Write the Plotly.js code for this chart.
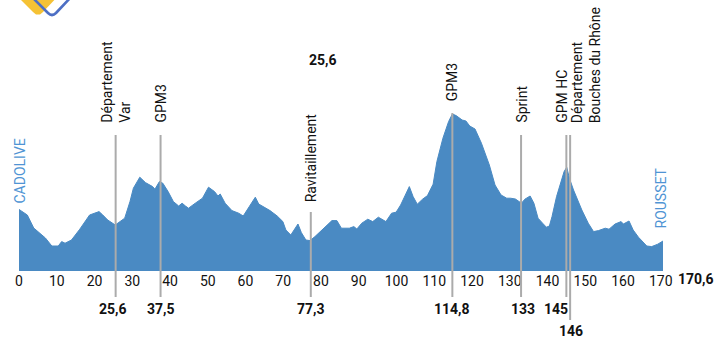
<!DOCTYPE html>
<html><head><meta charset="utf-8">
<script src="https://cdn.plot.ly/plotly-3.0.1.min.js"></script>
<style>html,body{margin:0;padding:0;background:#fff}#chart{width:720px;height:353px}</style>
</head><body><div id="chart"></div>
<script>
// Stage profile: distance (km) and elevation (m, estimated)
const km = [0,2.2,3.9,7.0,8.7,10.4,11.3,12.2,13.9,16.1,18.7,20.0,21.2,22.2,23.5,25.5,26.6,28.0,29.4,30.3,32.0,33.5,35.4,36.0,37.2,38.1,39.5,40.9,42.3,43.2,44.1,44.9,46.7,48.6,50.2,51.8,52.7,53.3,54.6,56.4,58.2,59.4,61.0,62.6,63.5,65.1,66.5,68.4,69.9,70.7,72.0,73.9,74.8,76.0,77.1,78.4,80.0,81.3,82.9,84.2,85.4,87.5,88.7,89.5,90.8,92.4,93.7,95.2,96.2,97.2,98.7,99.9,101.1,102.4,103.4,104.4,105.5,106.9,108.2,109.7,110.7,112.3,113.8,114.8,115.8,117.4,118.4,119.4,120.8,122.5,124.6,126.1,127.7,129.2,130.2,131.5,133.1,134.0,135.4,136.4,137.5,138.7,139.7,140.5,141.2,142.4,143.6,144.4,145.1,145.8,146.9,149.1,150.8,152.2,153.5,155.3,156.3,157.9,159.5,160.1,161.6,162.7,164.1,166.3,167.6,169.2,170.6];
const elevation = [308,280,215,165,125,125,147,139,155,209,280,289,297,280,255,230,247,264,347,414,469,442,422,409,447,439,397,347,325,339,325,314,339,364,419,397,375,385,339,302,289,275,322,369,335,319,302,275,247,205,180,235,192,155,152,172,200,219,252,252,214,214,222,210,239,259,247,269,260,247,289,294,330,380,422,372,334,359,377,434,547,664,747,785,777,755,750,725,710,639,530,430,380,364,364,360,339,359,375,339,264,239,219,225,272,372,447,497,519,464,405,305,239,197,202,214,209,235,247,235,250,205,169,125,122,134,150];

const tickValues = [0,10,20,30,40,50,60,70,80,90,100,110,120,130,140,150,160,170];
const tickLabels = ["0","10","20","30","40","50","60","70","80","90","100","110","120","130","140","150","160","170"];

const markerKm = [25.6, 37.5, 77.3, 114.8, 133, 145, 146];
const markerNames = ["Département<br>Var","GPM3","Ravitaillement","GPM3","Sprint","GPM HC","Département<br>Bouches du Rhône"];
const markerKmLabels = ["25,6","37,5","77,3","114,8","133","145","146"];

const startName = "CADOLIVE";
const finishName = "ROUSSET";
const totalLabel = "170,6";
const topLabel = "25,6";

// ---- layout helpers (pixel -> paper) ----
const W=720,H=353,L=19,R=57,T=21,B=82;
const pw=W-L-R, ph=H-T-B;
const PY = y => (H-B-y)/ph;
const PX = x => (x-L)/pw;

const lineTop   = [135,135,212,113,135,135,135];
const lineBot   = [297,297,297,297,297,297,320];
const labelBot  = [125,125,204,103,125,125,125];
const labelShift= [0,0,0,0,0,-5,16];
const kmLabelY  = [309,309,309,309,309,309,331];
const kmLabelShift=[-3,0,0,0,2,-10,1];

const fontFam = 'Roboto, "Noto Sans", sans-serif';
const blue = '#4a8ac3';
const textBlue = '#4f94d4';

const shapes = [];
const annotations = [];
markerKm.forEach((k,i)=>{
  shapes.push({type:'line', xref:'x', yref:'paper', x0:k, x1:k, y0:PY(lineBot[i]), y1:PY(lineTop[i]),
    line:{color:'#ababab', width:2}, layer:'above'});
  annotations.push({xref:'x', yref:'paper', x:k, y:PY(labelBot[i]), text:markerNames[i], showarrow:false,
    textangle:-90, xanchor:'center', yanchor:'bottom', xshift:labelShift[i], align:'left',
    font:{family:fontFam, size:14, color:'#111'}});
  annotations.push({xref:'x', yref:'paper', x:k, y:PY(kmLabelY[i]), text:'<b>'+markerKmLabels[i]+'</b>', showarrow:false,
    xanchor:'center', yanchor:'middle', xshift:kmLabelShift[i],
    font:{family:fontFam, size:14, color:'#111'}});
});
annotations.push({xref:'paper', yref:'paper', x:PX(696), y:PY(279), text:'<b>'+totalLabel+'</b>', showarrow:false,
  xanchor:'center', yanchor:'middle', font:{family:fontFam, size:14, color:'#111'}});
annotations.push({xref:'paper', yref:'paper', x:PX(323), y:PY(60), text:'<b>'+topLabel+'</b>', showarrow:false,
  xanchor:'center', yanchor:'middle', font:{family:fontFam, size:14, color:'#111'}});
annotations.push({xref:'paper', yref:'paper', x:PX(19), y:PY(206), text:startName, showarrow:false, textangle:-90,
  xanchor:'center', yanchor:'bottom', font:{family:fontFam, size:14, color:textBlue}});
annotations.push({xref:'paper', yref:'paper', x:PX(660), y:PY(231), text:finishName, showarrow:false, textangle:-90,
  xanchor:'center', yanchor:'bottom', font:{family:fontFam, size:14, color:textBlue}});

// logo (partially cropped at top)
const pth = pts => 'M ' + pts.map(p=>PX(p[0])+','+PY(p[1])).join(' L ') + ' Z';
shapes.push({type:'path', xref:'paper', yref:'paper', path:pth([[15,-6],[33,12],[36,14.5],[40,14.5],[43,12],[60,-6]]),
  fillcolor:'#f5c235', line:{width:0}, layer:'above'});
shapes.push({type:'path', xref:'paper', yref:'paper', path:'M '+PX(31)+','+PY(-4)+' L '+PX(48)+','+PY(13)+' Q '+PX(52)+','+PY(17)+' '+PX(56)+','+PY(13)+' L '+PX(72)+','+PY(-4),
  line:{color:'#4d6fc4', width:2.6}, layer:'above'});

const trace = {x:km, y:elevation, type:'scatter', mode:'lines', fill:'tozeroy',
  fillcolor:blue, line:{color:blue, width:1, shape:'linear'}, hoverinfo:'skip'};

const layout = {
  width:W, height:H, margin:{l:L, r:R, t:T, b:B},
  paper_bgcolor:'#fff', plot_bgcolor:'#fff', showlegend:false,
  xaxis:{range:[0,170.6], tickvals:tickValues, ticktext:tickLabels, showgrid:false, zeroline:false,
    showline:false, ticks:'', tickfont:{family:fontFam, size:14, color:'#111'}, fixedrange:true},
  yaxis:{range:[0,1250], visible:false, showgrid:false, zeroline:false, fixedrange:true},
  shapes:shapes, annotations:annotations
};
Plotly.newPlot('chart',[trace],layout,{displayModeBar:false, staticPlot:true});
</script></body></html>
